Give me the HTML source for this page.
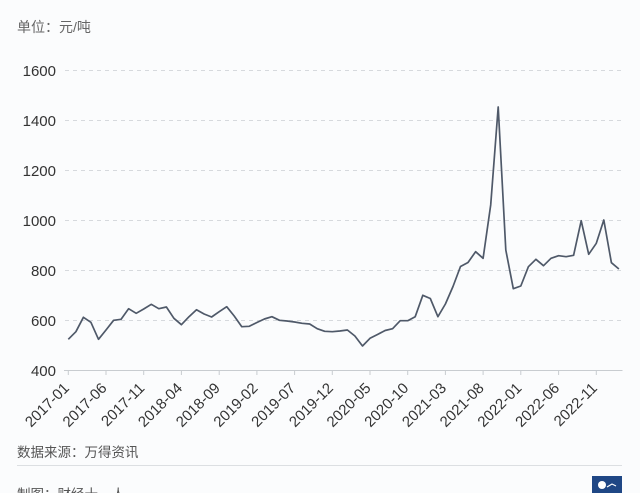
<!DOCTYPE html>
<html><head><meta charset="utf-8"><style>
html,body{margin:0;padding:0;background:#fbfcfd;}
body{width:640px;height:493px;overflow:hidden;position:relative;}
svg{position:absolute;left:0;top:0;}
text{font-family:"Liberation Sans","Noto Sans CJK SC",sans-serif;}
</style></head><body>
<svg width="640" height="493" viewBox="0 0 640 493" xmlns="http://www.w3.org/2000/svg">
<rect x="0" y="0" width="640" height="493" fill="#fbfcfd"/>
<text x="17" y="32" font-size="14" fill="#666">单位：元/吨</text>
<g stroke="#d6d9dd" stroke-width="1" stroke-dasharray="4,4">
<line x1="65" y1="70.5" x2="622" y2="70.5"/>
<line x1="65" y1="120.5" x2="622" y2="120.5"/>
<line x1="65" y1="170.5" x2="622" y2="170.5"/>
<line x1="65" y1="220.5" x2="622" y2="220.5"/>
<line x1="65" y1="270.5" x2="622" y2="270.5"/>
<line x1="65" y1="320.5" x2="622" y2="320.5"/>
</g>
<g font-size="15" fill="#333" text-anchor="end">
<text x="56" y="76">1600</text>
<text x="56" y="126">1400</text>
<text x="56" y="176">1200</text>
<text x="56" y="226">1000</text>
<text x="56" y="276">800</text>
<text x="56" y="326">600</text>
<text x="56" y="376">400</text>
</g>
<line x1="64" y1="370.5" x2="622.5" y2="370.5" stroke="#c8ccd0" stroke-width="1"/>
<g stroke="#c8ccd0" stroke-width="1">
<line x1="68.3" y1="370" x2="68.3" y2="375"/>
<line x1="106" y1="370" x2="106" y2="375"/>
<line x1="143.7" y1="370" x2="143.7" y2="375"/>
<line x1="181.4" y1="370" x2="181.4" y2="375"/>
<line x1="219.2" y1="370" x2="219.2" y2="375"/>
<line x1="256.9" y1="370" x2="256.9" y2="375"/>
<line x1="294.6" y1="370" x2="294.6" y2="375"/>
<line x1="332.3" y1="370" x2="332.3" y2="375"/>
<line x1="370" y1="370" x2="370" y2="375"/>
<line x1="407.7" y1="370" x2="407.7" y2="375"/>
<line x1="445.4" y1="370" x2="445.4" y2="375"/>
<line x1="483.1" y1="370" x2="483.1" y2="375"/>
<line x1="520.8" y1="370" x2="520.8" y2="375"/>
<line x1="558.6" y1="370" x2="558.6" y2="375"/>
<line x1="596.3" y1="370" x2="596.3" y2="375"/>
</g>
<g font-size="15" fill="#333" text-anchor="end">
<text transform="translate(70,389) rotate(-45)">2017-01</text>
<text transform="translate(107.7,389) rotate(-45)">2017-06</text>
<text transform="translate(145.4,389) rotate(-45)">2017-11</text>
<text transform="translate(183.1,389) rotate(-45)">2018-04</text>
<text transform="translate(220.9,389) rotate(-45)">2018-09</text>
<text transform="translate(258.6,389) rotate(-45)">2019-02</text>
<text transform="translate(296.3,389) rotate(-45)">2019-07</text>
<text transform="translate(334,389) rotate(-45)">2019-12</text>
<text transform="translate(371.7,389) rotate(-45)">2020-05</text>
<text transform="translate(409.4,389) rotate(-45)">2020-10</text>
<text transform="translate(447.1,389) rotate(-45)">2021-03</text>
<text transform="translate(484.8,389) rotate(-45)">2021-08</text>
<text transform="translate(522.5,389) rotate(-45)">2022-01</text>
<text transform="translate(560.3,389) rotate(-45)">2022-06</text>
<text transform="translate(598,389) rotate(-45)">2022-11</text>
</g>
<polyline fill="none" stroke="#4f5969" stroke-width="1.7" stroke-linejoin="round" points="
68.3,339.3 75.9,331.7 83.4,317.3 90.9,322.3 98.5,339.3 106,330 113.6,320.3 121.1,319.3 128.6,308.7 136.2,313.3
143.7,309 151.3,304.3 158.8,308.7 166.4,307 173.9,318.3 181.4,324.7 189,316.7 196.5,309.7 204.1,314 211.6,317
219.2,311.7 226.7,306.7 234.2,316 241.8,326.7 249.3,326.3 256.9,322.5 264.4,319 271.9,316.7 279.5,320.3 287,321
294.6,322 302.1,323.3 309.7,324 317.2,328.7 324.7,331.3 332.3,331.7 339.8,331 347.4,330 354.9,336 362.5,346
370,338.3 377.5,334.5 385.1,330.5 392.6,328.7 400.2,320.7 407.7,320.7 415.2,316.7 422.8,295.3 430.3,298.5 437.9,316.7
445.4,304 453,286.5 460.5,266.5 468,262.5 475.6,251.7 483.1,258.3 490.7,205 498.2,107 505.8,250 513.3,288.7
520.8,286 528.4,266.7 535.9,259.3 543.5,265.7 551,258.3 558.6,255.7 566.1,256.7 573.6,255.3 581.2,220.7 588.7,254.3
596.3,243.3 603.8,220 611.4,262.7 618.9,269"/>
<text x="17" y="457" font-size="13.5" fill="#555">数据来源：万得资讯</text>
<line x1="17" y1="465.5" x2="622" y2="465.5" stroke="#dcdfe2" stroke-width="1"/>
<text x="17" y="499" font-size="13.5" fill="#555">制图：财经十一人</text>
<rect x="592" y="476" width="30" height="17" fill="#1f4785"/>
<circle cx="602" cy="485" r="4" fill="#fff"/>
<path d="M607 487 l5 -3 l4 2" stroke="#fff" stroke-width="1.2" fill="none"/>
</svg>
</body></html>
